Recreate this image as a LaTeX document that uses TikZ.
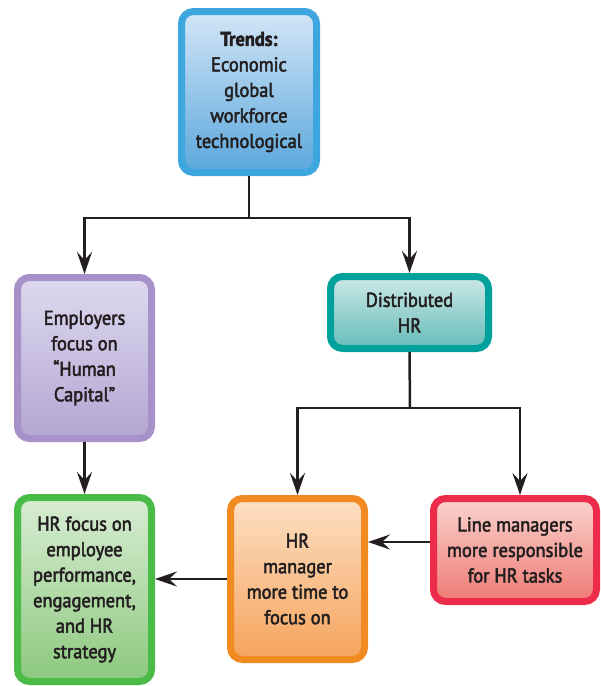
\documentclass[tikz,border=0pt]{standalone}
\usepackage{fontspec}
\setmainfont{PT Sans}[FakeStretch=0.92, FakeBold=2.5]
\usetikzlibrary{arrows.meta}
\definecolor{txt}{HTML}{231F20}
\definecolor{bluB}{HTML}{3EA6DE}\definecolor{bluT}{HTML}{D3E6F7}\definecolor{bluD}{HTML}{5AA7DC}
\definecolor{purB}{HTML}{A692C8}\definecolor{purT}{HTML}{DDD9EE}\definecolor{purD}{HTML}{B3A6D3}
\definecolor{tealB}{HTML}{00A09B}\definecolor{tealT}{HTML}{CCE9E8}\definecolor{tealD}{HTML}{66BCB9}
\definecolor{grnB}{HTML}{4BBB48}\definecolor{grnT}{HTML}{D8ECD3}\definecolor{grnD}{HTML}{8DC97F}
\definecolor{orgB}{HTML}{F28A22}\definecolor{orgT}{HTML}{FDE0C4}\definecolor{orgD}{HTML}{F5A35C}
\definecolor{redB}{HTML}{EC2C4A}\definecolor{redT}{HTML}{FBD3CE}\definecolor{redD}{HTML}{EE7A74}
\tikzset{
  box/.style n args={3}{draw=#1, top color=#2, bottom color=#3, line width=7pt,
    rounded corners=12pt, align=center, text=txt, inner sep=0pt,
    font=\fontsize{20}{25.5}\selectfont},
  conn/.style={line width=2.5pt, draw=txt},
  arr/.style={conn, -{Stealth[length=22pt, width=15pt, inset=8pt]}}
}
\begin{document}
\begin{tikzpicture}[x=1pt,y=-1pt]
\useasboundingbox (0,0) rectangle (601,686);
\node[box={bluB}{bluT}{bluD}, minimum width=135pt, minimum height=161pt] (trends) at (249,92)
  {\textbf{Trends:}\\Economic\\global\\workforce\\technological};
\node[box={purB}{purT}{purD}, minimum width=134pt, minimum height=161pt] (emp) at (84.5,358)
  {Employers\\focus on\\“Human\\Capital”};
\node[box={tealB}{tealT}{tealD}, minimum width=158pt, minimum height=72pt] (dist) at (409.5,312.5)
  {Distributed\\HR};
\node[box={grnB}{grnT}{grnD}, minimum width=134pt, minimum height=184pt] (hrf) at (84.5,589.5)
  {HR focus on\\employee\\performance,\\engagement,\\and HR\\strategy};
\node[box={orgB}{orgT}{orgD}, minimum width=134pt, minimum height=161pt] (hrm) at (297.5,579)
  {HR\\manager\\more time to\\focus on};
\node[box={redB}{redT}{redD}, minimum width=163pt, minimum height=103pt] (line) at (515,550)
  {Line managers\\more responsible\\for HR tasks};
\coordinate (j1) at (249,218);
\coordinate (j2) at (410,408);
\draw[conn] (trends.south) -- (j1);
\draw[arr] (j1) -| (emp.north);
\draw[arr] (j1) -| (dist.north);
\draw[arr] (emp.south) -- (hrf.north);
\draw[conn] (dist.south) -- (j2);
\draw[arr] (j2) -| (hrm.north);
\draw[arr] (j2) -| ([xshift=5pt]line.north);
\draw[arr] ([yshift=8pt]line.west) -- ([yshift=8pt]line.west -| hrm.east);
\draw[arr] (hrm.west) -- (hrm.west -| hrf.east);
\end{tikzpicture}
\end{document}
